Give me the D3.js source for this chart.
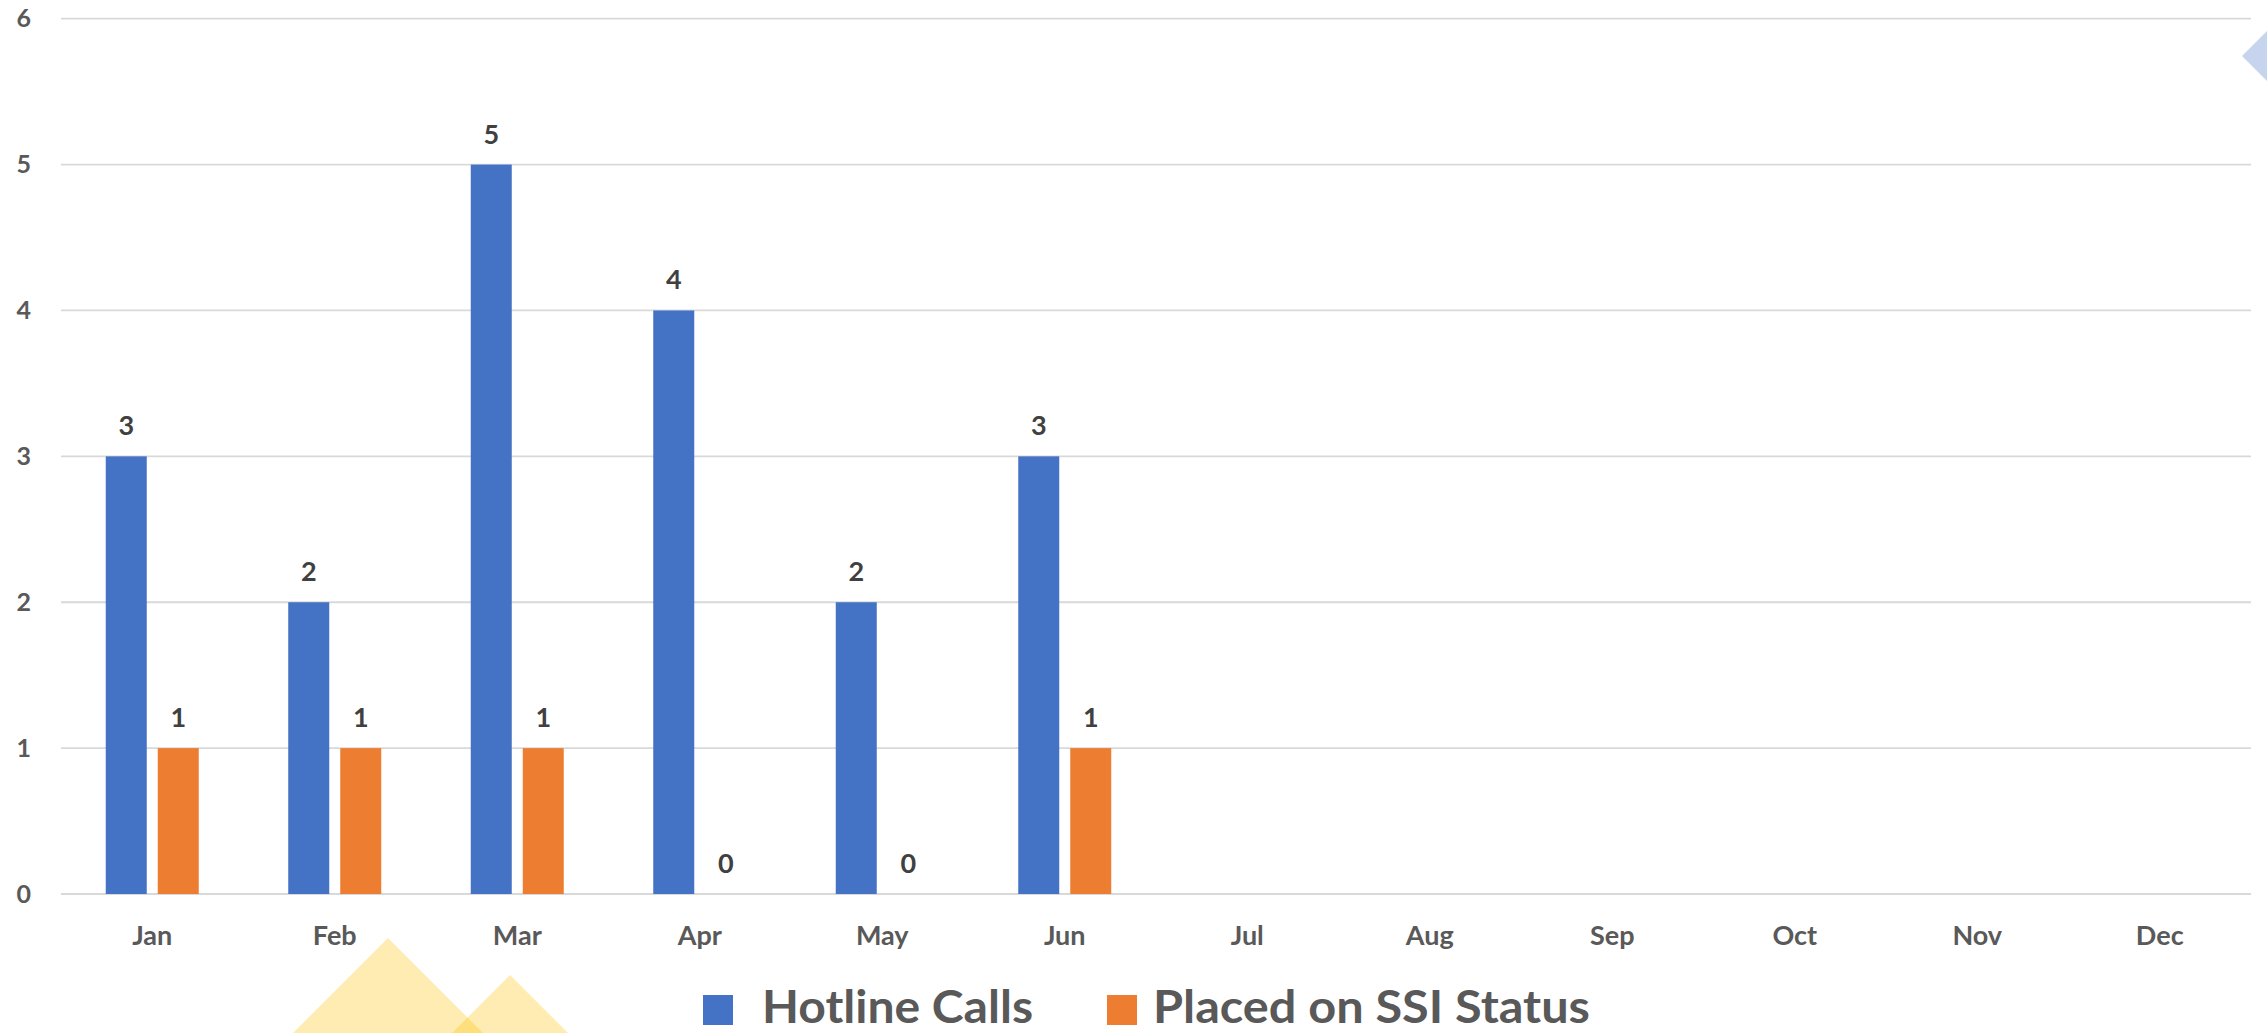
<!DOCTYPE html>
<html>
<head>
<meta charset="utf-8">
<script src="https://cdn.jsdelivr.net/npm/d3@7"></script>
<style>
  html, body { margin: 0; padding: 0; background: #fff; }
  svg { display: block; }
  text { font-family: Lato, "Open Sans", "DejaVu Sans", sans-serif; font-weight: bold; }
</style>
</head>
<body>
<svg id="chart" width="2267" height="1033"></svg>
<script>
const months = ["Jan","Feb","Mar","Apr","May","Jun","Jul","Aug","Sep","Oct","Nov","Dec"];
const hotlineCalls = [3, 2, 5, 4, 2, 3, null, null, null, null, null, null];
const placedOnSSI = [1, 1, 1, 0, 0, 1, null, null, null, null, null, null];
const seriesNames = ["Hotline Calls", "Placed on SSI Status"];
const yTicks = [0, 1, 2, 3, 4, 5, 6];

const colors = ["#4472C4", "#ED7D31"];
const svg = d3.select("#chart");
const plot = { left: 61, right: 2251, top: 18.7, bottom: 894 };

// background decorations
const deco = svg.append("g");
deco.append("path")
  .attr("d", "M388,938 L483,1033 L293,1033 Z")
  .attr("fill", "#FFC000").attr("fill-opacity", 0.3);
deco.append("path")
  .attr("d", "M510,975 L568,1033 L452,1033 Z")
  .attr("fill", "#FFC000").attr("fill-opacity", 0.3);
deco.append("path")
  .attr("d", "M2242,56 L2282,16 L2322,56 L2282,96 Z")
  .attr("fill", "#4472C4").attr("fill-opacity", 0.3);

const x0 = d3.scaleBand().domain(months).range([plot.left, plot.right]).padding(0);
const bw = x0.bandwidth();
const groupW = 93;
const x1 = d3.scaleBand().domain(seriesNames)
  .range([(bw - groupW) / 2, (bw + groupW) / 2])
  .paddingInner(0.2115).paddingOuter(0);
const y = d3.scaleLinear().domain([0, 6]).range([plot.bottom, plot.top]);

// gridlines
svg.append("g").selectAll("line").data(yTicks).join("line")
  .attr("x1", plot.left).attr("x2", plot.right)
  .attr("y1", d => y(d)).attr("y2", d => y(d))
  .attr("stroke", "#D9D9D9").attr("stroke-width", 1.8);

// y axis labels
const yAxis = d3.axisLeft(y).tickValues(yTicks).tickSize(0).tickPadding(0).tickFormat(d3.format("d"));
const gy = svg.append("g").attr("transform", "translate(31,0)").call(yAxis);
gy.select(".domain").remove();
gy.selectAll("text")
  .attr("font-size", 25).attr("fill", "#595959")
  .attr("font-family", "Lato, 'Open Sans', sans-serif").attr("font-weight", "bold");

// x axis labels
const xAxis = d3.axisBottom(x0).tickSize(0).tickPadding(0);
const gx = svg.append("g").attr("transform", "translate(0,945)").call(xAxis);
gx.select(".domain").remove();
gx.selectAll("text")
  .attr("dy", 0).attr("y", 0)
  .attr("font-size", 27).attr("fill", "#595959")
  .attr("font-family", "Lato, 'Open Sans', sans-serif").attr("font-weight", "bold");

// bars
const seriesData = [hotlineCalls, placedOnSSI];
seriesData.forEach((vals, si) => {
  const pts = months.map((m, i) => ({ m, v: vals[i] })).filter(d => d.v !== null);
  const g = svg.append("g");
  g.selectAll("rect").data(pts).join("rect")
    .attr("x", d => x0(d.m) + x1(seriesNames[si]))
    .attr("width", x1.bandwidth())
    .attr("y", d => y(d.v))
    .attr("height", d => y(0) - y(d.v))
    .attr("fill", colors[si]);
  g.selectAll("text").data(pts).join("text")
    .attr("x", d => x0(d.m) + x1(seriesNames[si]) + x1.bandwidth() / 2)
    .attr("y", d => y(d.v) - 21)
    .attr("text-anchor", "middle")
    .attr("font-size", 27).attr("fill", "#404040")
    .text(d => d.v);
});

// legend
const legendItems = [
  { name: seriesNames[0], color: colors[0], sx: 703, tx: 762, len: 271 },
  { name: seriesNames[1], color: colors[1], sx: 1107, tx: 1153, len: 437 }
];
const lg = svg.append("g");
legendItems.forEach(it => {
  lg.append("rect").attr("x", it.sx).attr("y", 995).attr("width", 30).attr("height", 30).attr("fill", it.color);
  lg.append("text").attr("x", it.tx).attr("y", 1023)
    .attr("font-size", 46).attr("fill", "#595959")
    .attr("textLength", it.len).attr("lengthAdjust", "spacingAndGlyphs")
    .text(it.name);
});
</script>
</body>
</html>
